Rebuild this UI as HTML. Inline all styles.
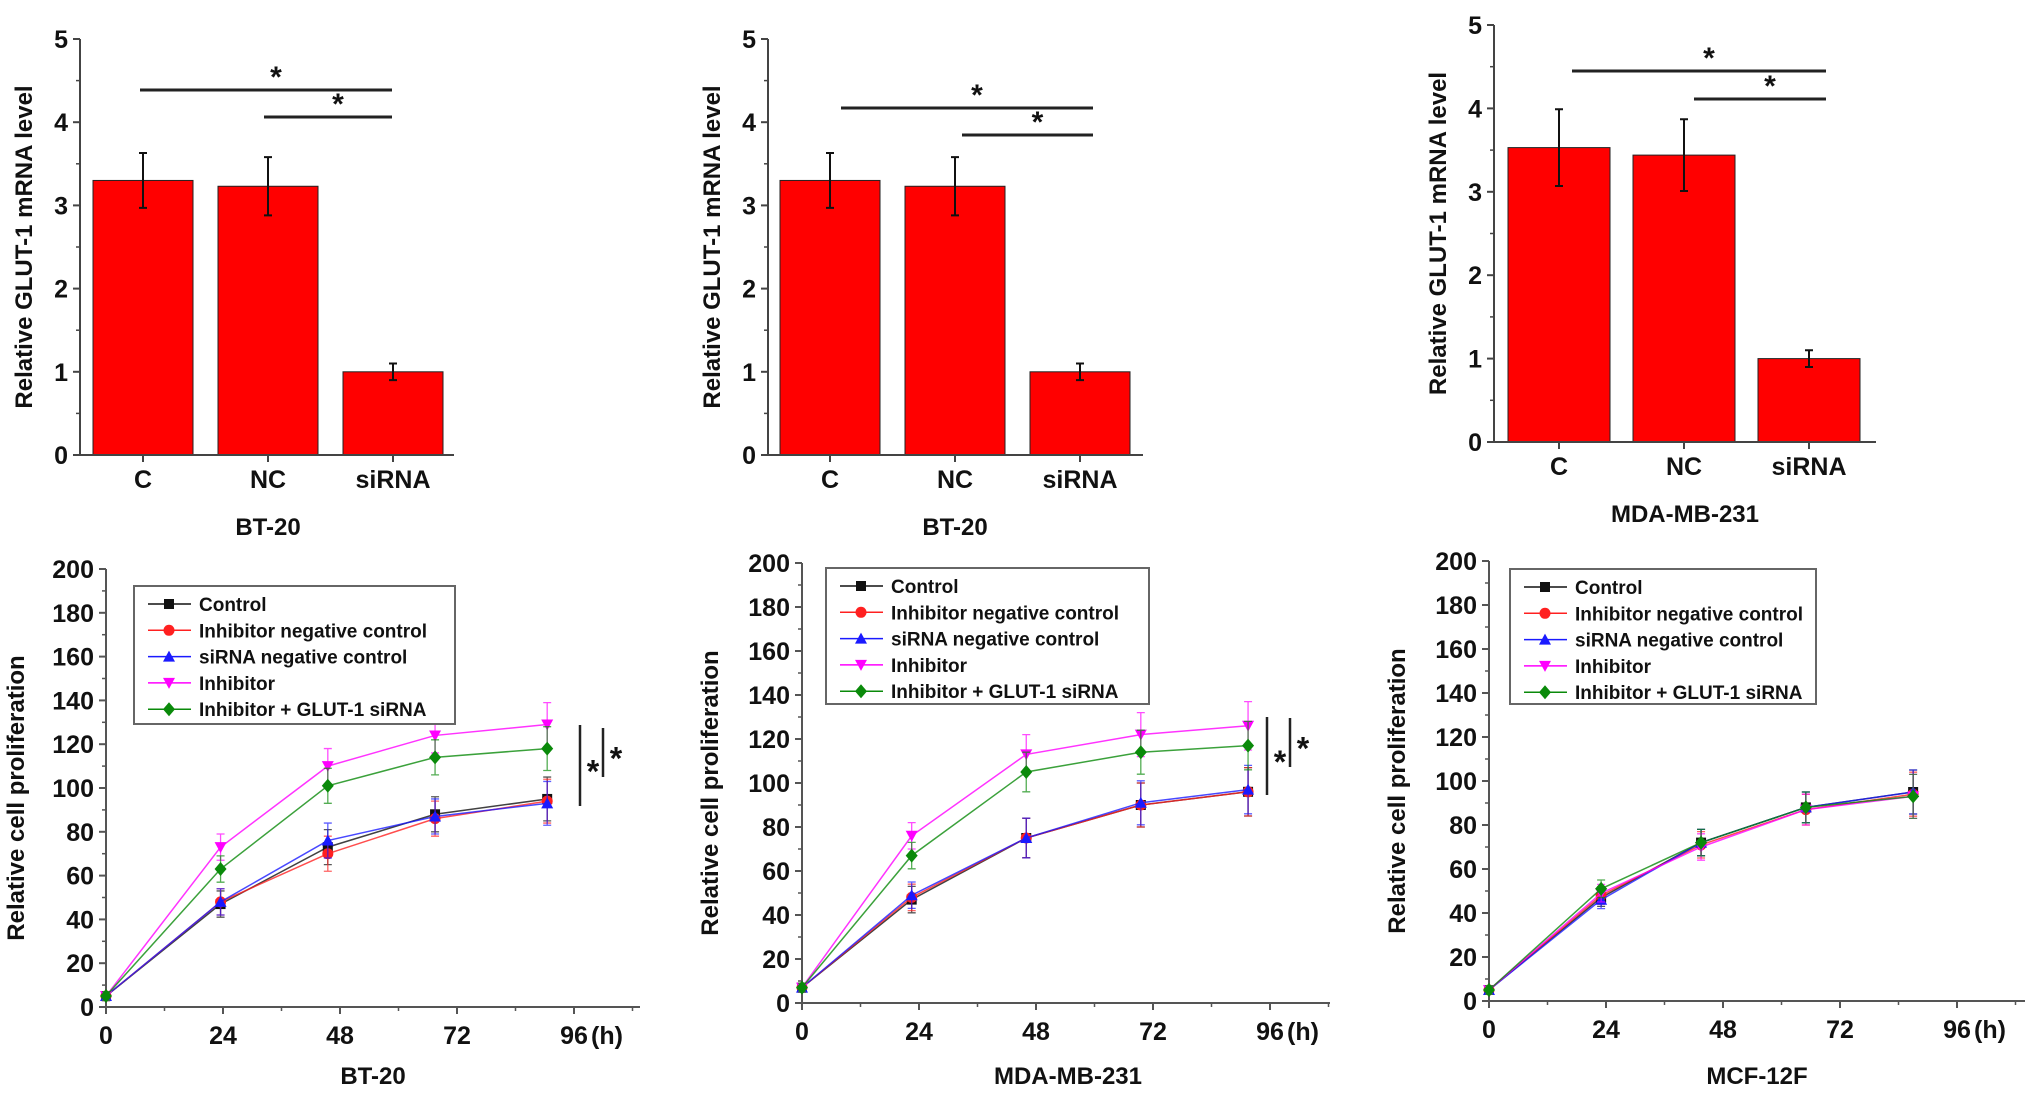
<!DOCTYPE html>
<html><head><meta charset="utf-8"><style>
html,body{margin:0;padding:0;background:#fff}
svg{display:block;font-family:"Liberation Sans",Arial,sans-serif}
</style></head><body>
<svg id="fig" width="2031" height="1099" viewBox="0 0 2031 1099" xmlns="http://www.w3.org/2000/svg"></svg>
<script>
// ---- bar chart data ----
const barCategories = ["C", "NC", "siRNA"];
const barValuesBT20a = [3.30, 3.23, 1.00];
const barErrBT20a = [0.33, 0.35, 0.10];
const barValuesBT20b = [3.30, 3.23, 1.00];
const barErrBT20b = [0.33, 0.35, 0.10];
const barValuesMDA = [3.53, 3.44, 1.00];
const barErrMDA = [0.46, 0.43, 0.10];
const barTicks = [0, 1, 2, 3, 4, 5];
// ---- line chart data ----
const seriesNames = ["Control", "Inhibitor negative control", "siRNA negative control", "Inhibitor", "Inhibitor + GLUT-1 siRNA"];
const timeTicks = [0, 24, 48, 72, 96];
const propTicks = [0, 20, 40, 60, 80, 100, 120, 140, 160, 180, 200];
const timesBT20 = [0, 23.5, 45.5, 67.5, 90.5];
const controlBT20 = [5, 47, 73, 88, 95];
const inhNCBT20 = [5, 48, 70, 86, 94];
const siNCBT20 = [5, 48, 76, 87, 93];
const inhBT20 = [5, 73, 110, 124, 129];
const inhSiBT20 = [5, 63, 101, 114, 118];
const errBT20 = [2, 6, 8, 8, 10];
const timesMDA = [0, 22.5, 46, 69.5, 91.5];
const controlMDA = [7, 47, 75, 90, 96];
const inhNCMDA = [7, 48, 75, 90, 96];
const siNCMDA = [7, 49, 75, 91, 97];
const inhMDA = [7, 76, 113, 122, 126];
const inhSiMDA = [7, 67, 105, 114, 117];
const errMDA = [2, 6, 9, 10, 11];
const timesMCF = [0, 23, 43.5, 65, 87];
const controlMCF = [5, 47, 72, 88, 95];
const inhNCMCF = [5, 48, 71, 87, 94];
const siNCMCF = [5, 46, 72, 88, 95];
const inhMCF = [5, 49, 70, 87, 93];
const inhSiMCF = [5, 51, 72, 88, 93];
const errMCF = [2, 4, 6, 7, 10];

const NS = "http://www.w3.org/2000/svg";
const svg = document.getElementById("fig");
function el(tag, attrs, parent) {
  const e = document.createElementNS(NS, tag);
  for (const k in attrs) e.setAttribute(k, attrs[k]);
  (parent || svg).appendChild(e);
  return e;
}
function txt(s, x, y, size, parent, anchor, extra) {
  const t = el("text", Object.assign({x: x, y: y, "font-size": size, "font-weight": "bold", "text-anchor": anchor || "middle", fill: "#111"}, extra || {}), parent);
  t.textContent = s;
  return t;
}

function barChart(name, ox, y0, y5, xEnd, vals, errs, xs, bw, title, titleX, titleY, labY, sig, ylabX) {
  const g = el("g", {});
  
  
  const sy = v => y0 - (y0 - y5) * v / 5;
  vals.forEach((v, i) => {
    const r = el("rect", {x: xs[i] - bw / 2, y: sy(v), width: bw, height: y0 - sy(v), fill: "#ff0000", stroke: "#222", "stroke-width": 1}, g);
    
    
    const hi = sy(v + errs[i]), lo = sy(v - errs[i]);
    const eb = el("path", {d: `M${xs[i]} ${hi}V${lo}M${xs[i]-4} ${hi}H${xs[i]+4}M${xs[i]-4} ${lo}H${xs[i]+4}`, stroke: "#111", "stroke-width": 2, fill: "none"}, g);
    
    
  });
  const ax = el("path", {d: `M${ox} ${y5}V${y0}H${xEnd}`, stroke: "#444", "stroke-width": 2, fill: "none"}, g);
  
  
  barTicks.forEach(t => {
    el("line", {x1: ox - 7, x2: ox, y1: sy(t), y2: sy(t), stroke: "#444", "stroke-width": 2}, g);
    if (t < 5) el("line", {x1: ox - 4, x2: ox, y1: sy(t + 0.5), y2: sy(t + 0.5), stroke: "#444", "stroke-width": 1.5}, g);
    const l = txt(String(t), ox - 12, sy(t) + 9, 25, g, "end");
    
    
  });
  xs.forEach((x, i) => {
    el("line", {x1: x, x2: x, y1: y0, y2: y0 + 7, stroke: "#444", "stroke-width": 2}, g);
    const l = txt(barCategories[i], x, labY, 25, g);
    
    
  });
  const yl = txt("Relative GLUT-1 mRNA level", 0, 0, 24, g, "middle", {transform: `translate(${ylabX},${(y0 + y5) / 2}) rotate(-90)`});
  
  
  const tt = txt(title, titleX, titleY, 24, g);
  
  
  sig.forEach(s => {
    const ln = el("line", {x1: s[0], x2: s[1], y1: s[2], y2: s[2], stroke: "#222", "stroke-width": 3}, g);
    
    
    const st = txt("*", (s[0] + s[1]) / 2 + 10, s[2] - 3, 30, g);
    
    
  });
}

barChart("bar-chart-bt20-a", 80, 455, 39, 454, barValuesBT20a, barErrBT20a, [143, 268, 393], 100, "BT-20", 268, 535, 488,
  [[140, 392, 90], [264, 392, 117]], 32);
barChart("bar-chart-bt20-b", 768, 455, 39, 1143, barValuesBT20b, barErrBT20b, [830, 955, 1080], 100, "BT-20", 955, 535, 488,
  [[841, 1093, 108], [962, 1093, 135]], 720);
barChart("bar-chart-mda", 1494, 442, 25, 1876, barValuesMDA, barErrMDA, [1559, 1684, 1809], 102, "MDA-MB-231", 1685, 522, 475,
  [[1572, 1826, 71], [1694, 1826, 99]], 1446);

const colors = ["#111111", "#ff2020", "#1a1aff", "#ff00ff", "#0a8a0a"];
function marker(kind, x, y, c, g) {
  let m;
  if (kind === 0) m = el("rect", {x: x - 5, y: y - 5, width: 10, height: 10, fill: c}, g);
  else if (kind === 1) m = el("circle", {cx: x, cy: y, r: 5.5, fill: c}, g);
  else if (kind === 2) m = el("path", {d: `M${x} ${y-6}L${x+6} ${y+5}L${x-6} ${y+5}Z`, fill: c}, g);
  else if (kind === 3) m = el("path", {d: `M${x} ${y+6}L${x+6} ${y-5}L${x-6} ${y-5}Z`, fill: c}, g);
  else m = el("path", {d: `M${x} ${y-7}L${x+6} ${y}L${x} ${y+7}L${x-6} ${y}Z`, fill: c}, g);
  
  
}

function lineChart(name, ox, y0, y200, xEnd, times, series, err, legend, title, titleX, sigs, ylabX) {
  const g = el("g", {});
  
  
  const sx = t => ox + t * 117 / 24;
  const sy = v => y0 - (y0 - y200) * v / 200;
  const ax = el("path", {d: `M${ox} ${y200}V${y0}H${xEnd}`, stroke: "#555", "stroke-width": 2, fill: "none"}, g);
  
  
  propTicks.forEach(t => {
    el("line", {x1: ox - 7, x2: ox, y1: sy(t), y2: sy(t), stroke: "#555", "stroke-width": 2}, g);
    if (t < 200) el("line", {x1: ox - 4, x2: ox, y1: sy(t + 10), y2: sy(t + 10), stroke: "#555", "stroke-width": 1.5}, g);
    const l = txt(String(t), ox - 12, sy(t) + 9, 25, g, "end");
    
    
  });
  timeTicks.forEach(t => {
    el("line", {x1: sx(t), x2: sx(t), y1: y0, y2: y0 + 7, stroke: "#555", "stroke-width": 2}, g);
    el("line", {x1: sx(t + 12), x2: sx(t + 12), y1: y0, y2: y0 + 4, stroke: "#555", "stroke-width": 1.5}, g);
    const l = txt(String(t), sx(t), y0 + 37, 25, g);
    
    
  });
  const hl = txt("(h)", sx(96) + 17, y0 + 37, 25, g, "start");
  
  
  const yl = txt("Relative cell proliferation", 0, 0, 24, g, "middle", {transform: `translate(${ylabX},${(y0 + y200) / 2 + 10}) rotate(-90)`});
  
  
  const tt = txt(title, titleX, 1084, 24, g);
  
  
  series.forEach((vals, si) => {
    const c = colors[si];
    const pts = vals.map((v, i) => `${sx(times[i])},${sy(v)}`).join(" ");
    const pl = el("polyline", {points: pts, fill: "none", stroke: c, "stroke-width": 1.5, opacity: 0.8}, g);
    
    
    vals.forEach((v, i) => {
      const x = sx(times[i]), hi = sy(v + err[i]), lo = sy(v - err[i]);
      const eb = el("path", {d: `M${x} ${hi}V${lo}M${x-4} ${hi}H${x+4}M${x-4} ${lo}H${x+4}`, stroke: c, "stroke-width": 1.3, fill: "none", opacity: 0.7}, g);
      
      
      marker(si, x, sy(v), c, g);
    });
  });
  const [lx, ly, lw, lh] = legend;
  const lg = el("g", {}, g);
  
  
  el("rect", {x: lx, y: ly, width: lw, height: lh, fill: "#fff", stroke: "#666", "stroke-width": 2}, lg);
  seriesNames.forEach((n, i) => {
    const yy = ly + 18 + i * 26.3;
    const e = el("g", {}, lg);
    
    
    el("line", {x1: lx + 14, x2: lx + 57, y1: yy, y2: yy, stroke: colors[i], "stroke-width": 1.5}, e);
    marker(i, lx + 35, yy, colors[i], e);
    txt(n, lx + 65, yy + 7, 19, e, "start");
  });
  sigs.forEach(s => {
    const ln = el("line", {x1: s[0], x2: s[0], y1: s[1], y2: s[2], stroke: "#222", "stroke-width": 2.5}, g);
    
    
    const st = txt("*", s[0] + 13, (s[1] + s[2]) / 2 + 17, 32, g);
    
    
  });
}

lineChart("line-chart-bt20", 106, 1007, 569, 640, timesBT20,
  [controlBT20, inhNCBT20, siNCBT20, inhBT20, inhSiBT20], errBT20,
  [134, 586, 321, 138], "BT-20", 373, [[580, 725, 806], [603, 728, 777]], 24);
lineChart("line-chart-mda", 802, 1003, 563, 1330, timesMDA,
  [controlMDA, inhNCMDA, siNCMDA, inhMDA, inhSiMDA], errMDA,
  [826, 568, 323, 136], "MDA-MB-231", 1068, [[1267, 717, 795], [1290, 718, 767]], 718);
lineChart("line-chart-mcf", 1489, 1001, 561, 2025, timesMCF,
  [controlMCF, inhNCMCF, siNCMCF, inhMCF, inhSiMCF], errMCF,
  [1510, 569, 306, 135], "MCF-12F", 1757, [], 1405);
</script>
</body></html>
